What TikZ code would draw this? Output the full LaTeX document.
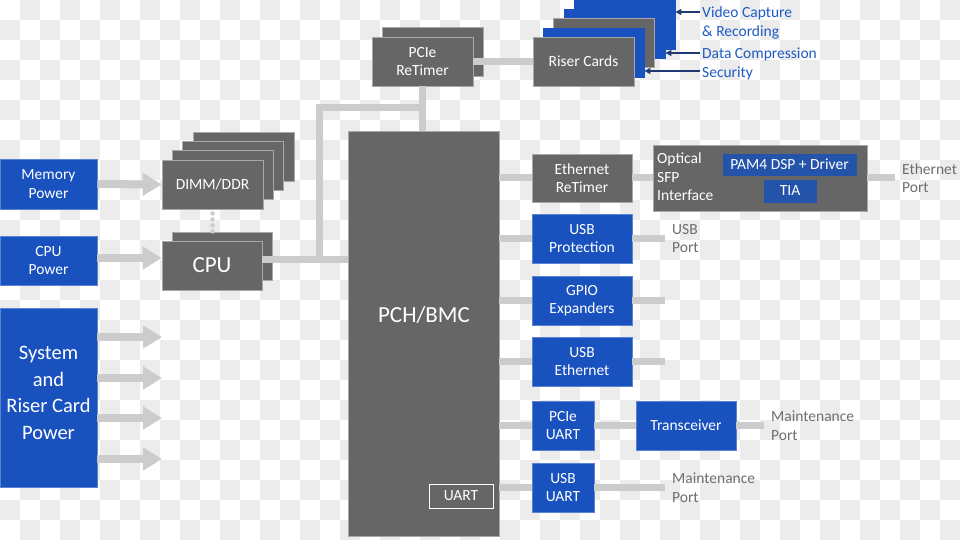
\documentclass[tikz,border=0pt]{standalone}
\usepackage{fontspec}
\setmainfont{Carlito}
\usetikzlibrary{arrows.meta}
\definecolor{boxgray}{HTML}{666666}
\definecolor{gedge}{HTML}{A8A8A8}
\definecolor{boxblue}{HTML}{1952BE}
\definecolor{bedge}{HTML}{5A84D2}
\definecolor{inblue}{HTML}{2453AA}
\definecolor{conncol}{HTML}{CCCCCC}
\definecolor{chk}{RGB}{236,236,236}
\definecolor{lbl}{HTML}{6E6E6E}
\definecolor{btext}{HTML}{1F5BC6}
\definecolor{navy}{HTML}{1F3A70}
\newcommand\fsmain{\fontsize{15.5}{18.5}\selectfont}
\newcommand\fsbig{\fontsize{20.5}{26.5}\selectfont}
\newcommand\fshuge{\fontsize{23}{27}\selectfont}
\begin{document}
\begin{tikzpicture}[x=1pt,y=-1pt,
  gbox/.style={fill=boxgray, draw=gedge, line width=0.8pt, text=white, font=\fsmain, align=center, inner sep=0pt},
  bbox/.style={gbox, fill=boxblue, draw=bedge},
  ibox/.style={gbox, fill=inblue, draw=inblue},
  stk/.style={minimum width=101, minimum height=49},
  conn/.style={draw=conncol, line width=7pt},
  pwr/.style={draw=conncol, line width=8pt, -{Triangle[length=19pt,width=22pt]}},
  navarrow/.style={draw=navy, line width=1.3pt, -{Triangle[length=6pt,width=6pt]}},
  port/.style={anchor=west, inner xsep=7pt, inner ysep=0pt, text=lbl, align=left, font=\fsmain},
  bluelbl/.style={anchor=west, inner sep=2pt, text=btext, align=left, font=\fsmain},
  dots/.style={draw=conncol, line width=4.5pt, line cap=round, dash pattern=on 0pt off 6pt},
  sq/.style={fill=chk, draw=none}
]
\path[fill=white] (0,0) rectangle (960,536);
\foreach \j in {0,2,...,26}{
  \foreach \i in {20,60,...,940}{
    \path[sq] (\i,\j*20) rectangle +(20,20);
  }
}
\foreach \j in {1,3,...,25}{
  \foreach \i in {0,40,...,920}{
    \path[sq] (\i,\j*20) rectangle +(20,20);
  }
}
\useasboundingbox (0,0) rectangle (960,536);

% power sources
\node[bbox, minimum width=97, minimum height=50] (mempow) at (48.5,184) {Memory\\Power};
\node[bbox, minimum width=97, minimum height=49] (cpupow) at (48.5,260.5) {CPU\\Power};
\node[bbox, minimum width=97, minimum height=179] (syspow) at (48.5,397.5) {};
\node[text=white, font=\fsbig, align=center, inner sep=0pt] (syslbl) at (48.5,393) {System\\and\\Riser Card\\Power};

% DIMM stack
\node[gbox, stk] (dimm3) at (243.5,157) {};
\node[gbox, stk] (dimm2) at (233,166) {};
\node[gbox, stk] (dimm1) at (222.5,175) {};
\node[gbox, stk] (dimm) at (212.5,184.5) {DIMM/DDR};

% CPU stack
\node[gbox, minimum width=100, minimum height=48] (cpub) at (222,256) {};
\node[gbox, minimum width=100, minimum height=49, font=\fshuge] (cpu) at (212,265.5) {CPU};
\draw[dots] ([yshift=-4pt]dimm.south) -- (dimm.south |- cpub.north);

% PCH
\node[gbox, minimum width=151, minimum height=405] (pch) at (423.5,333.5) {};
\node[text=white, font=\fshuge, inner sep=0pt] (pchlbl) at (424,315) {PCH/BMC};
\node[gbox, draw=white, minimum width=64, minimum height=24] (uart) at (461,496) {UART};

% ReTimer
\node[gbox, stk] (retb) at (433,52) {};
\node[gbox, stk] (ret) at (422.5,61.5) {PCIe\\ReTimer};

% Riser cards
\node[bbox, draw=boxblue, stk] (rs4) at (624.5,25) {};
\node[bbox, draw=boxblue, stk] (rs3) at (614.5,33.5) {};
\node[gbox, stk] (rsg) at (604,43) {};
\node[bbox, draw=boxblue, stk] (rs2) at (593.5,52.5) {};
\node[gbox, stk] (riser) at (583.5,61.5) {Riser Cards};

\node[bluelbl] (vcap) at (700,23) {Video Capture\\\& Recording};
\node[bluelbl] (dcomp) at (700,64) {Data Compression\\Security};
\draw[navarrow] (vcap.west |- 0,12) -- (rs4.east |- 0,12);
\draw[navarrow] (dcomp.west |- 0,53) -- (rs3.east |- 0,53);
\draw[navarrow] (dcomp.west |- 0,71) -- (rs2.east |- 0,71);

% right column
\node[gbox, minimum width=100, minimum height=48] (ethrt) at (582,178) {Ethernet\\ReTimer};
\node[bbox, minimum width=100, minimum height=49] (usbprot) at (582,238.5) {USB\\Protection};
\node[bbox, minimum width=100, minimum height=49] (gpio) at (582,300.5) {GPIO\\Expanders};
\node[bbox, minimum width=100, minimum height=49] (usbeth) at (582,361.5) {USB\\Ethernet};
\node[bbox, minimum width=62, minimum height=49] (pcieuart) at (563,425.5) {PCIe\\UART};
\node[bbox, minimum width=100, minimum height=49] (xcvr) at (686,425.5) {Transceiver};
\node[bbox, minimum width=62, minimum height=49] (usbuart) at (563,487.5) {USB\\UART};

% optical SFP
\node[gbox, minimum width=214, minimum height=66] (sfp) at (760,178) {};
\node[anchor=west, text=white, align=left, font=\fsmain, inner sep=0pt] (sfplbl) at (657,177) {Optical\\SFP\\Interface};
\node[ibox, minimum width=133, minimum height=21] (pam4) at (789.5,164.5) {PAM4 DSP + Driver};
\node[ibox, minimum width=52, minimum height=22] (tia) at (790,191) {TIA};

% port labels
\node[port] (ethport) at (895,178) {Ethernet\\Port};
\node[port] (usbport) at (665,238.5) {USB\\Port};
\node[port] (mport1) at (764,425.5) {Maintenance\\Port};
\node[port] (mport2) at (665,487.5) {Maintenance\\Port};
\coordinate (gpioend) at (665,300.5);
\coordinate (usbethend) at (665,361.5);

% power arrows
\draw[pwr] (mempow.east) -- (dimm.west);
\draw[pwr] ([yshift=2.5pt]cpupow.east) -- ([yshift=2.5pt]cpupow.east -| cpu.west);
\foreach \yy [count=\k] in {337,378,418,459}{
  \coordinate (sp\k) at (162,\yy);
  \draw[pwr] (syspow.east |- sp\k) -- (sp\k);
}

% bus connectors
\coordinate (j1) at (319,259);
\coordinate (j2) at (319,108);
\draw[conn] (ret.south) -- (ret.south |- pch.north);
\draw[conn] (j2 -| ret.south) -- (j2) -- (j1);
\draw[conn] (cpu.east |- j1) -- (pch.west |- j1);
\draw[conn] (ret.east) -- (riser.west);

\draw[conn] (pch.east |- ethrt) -- (ethrt.west);
\draw[conn] (ethrt.east) -- (sfp.west);
\draw[conn] (sfp.east) -- (ethport.west);
\draw[conn] (pch.east |- usbprot) -- (usbprot.west);
\draw[conn] (usbprot.east) -- (usbport.west);
\draw[conn] (pch.east |- gpio) -- (gpio.west);
\draw[conn] (gpio.east) -- (gpioend);
\draw[conn] (pch.east |- usbeth) -- (usbeth.west);
\draw[conn] (usbeth.east) -- (usbethend);
\draw[conn] (pch.east |- pcieuart) -- (pcieuart.west);
\draw[conn] (pcieuart.east) -- (xcvr.west);
\draw[conn] (xcvr.east) -- (mport1.west);
\draw[conn] (pch.east |- usbuart) -- (usbuart.west);
\draw[conn] (usbuart.east) -- (mport2.west);
\end{tikzpicture}
\end{document}
